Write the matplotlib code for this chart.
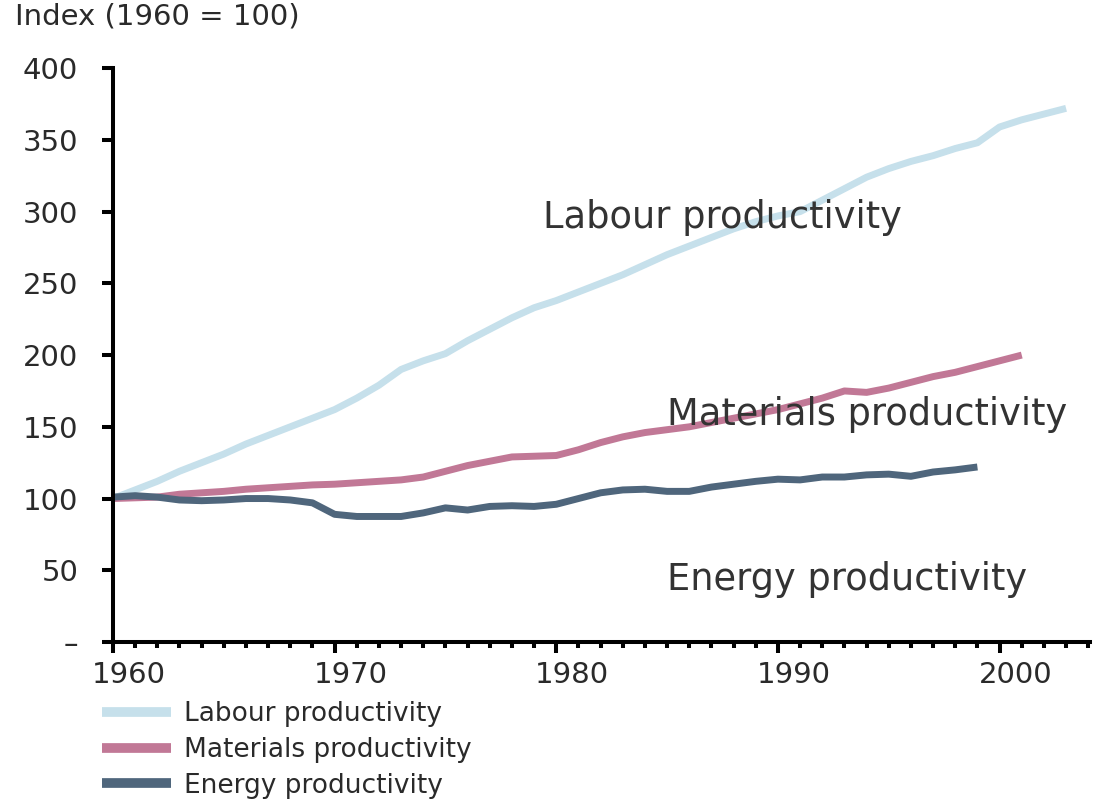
import numpy as np
import matplotlib
matplotlib.use("Agg")
import matplotlib.pyplot as plt
import matplotlib.transforms as mtransforms
from matplotlib.ticker import MultipleLocator

# ===== DATA =====
labour_years = list(range(1960, 2004))
labour = [100, 106, 112, 119, 125, 131, 138, 144, 150, 156,
          162, 170, 179, 190, 196, 201, 210, 218, 226, 233,
          238, 244, 250, 256, 263, 270, 276, 282, 288, 293,
          297, 300, 308, 316, 324, 330, 335, 339, 344, 348,
          359, 364, 368, 372]

materials_years = list(range(1960, 2002))
materials = [100, 100.5, 101, 103, 104, 105, 106.5, 107.5, 108.5, 109.5,
             110, 111, 112, 113, 115, 119, 123, 126, 129, 129.5,
             130, 134, 139, 143, 146, 148, 150, 153, 156, 159,
             162, 166, 170, 175, 174, 177, 181, 185, 188, 192,
             196, 200]

energy_years = list(range(1960, 2000))
energy = [101, 102, 101, 99, 98.5, 99, 100, 100, 99, 97,
          89, 87.5, 87.5, 87.5, 90, 93.5, 92, 94.5, 95, 94.5,
          96, 100, 104, 106, 106.5, 105, 105, 108, 110, 112,
          113.5, 113, 115, 115, 116.5, 117, 115.5, 118.5, 120, 122]

series_names = ["Labour productivity", "Materials productivity", "Energy productivity"]
series_colors = ["#c6e0eb", "#c17896", "#4f667c"]

y_ticks = [0, 50, 100, 150, 200, 250, 300, 350, 400]
y_tick_labels = ["–", "50", "100", "150", "200", "250", "300", "350", "400"]
x_ticks = [1960, 1970, 1980, 1990, 2000]

# label positions (year, value) for the in-chart names
label_pos = [(1979.4, 288.6), (1985.0, 151.5), (1985.0, 36.0)]

# ===== PLOT =====
fig = plt.figure(figsize=(11.15, 8.02), dpi=100)
ax = fig.add_axes([0.1013, 0.1995, 0.9780 - 0.1013, 0.915 - 0.1995])

xs = [labour_years, materials_years, energy_years]
ys = [labour, materials, energy]
for x, y, name, c in zip(xs, ys, series_names, series_colors):
    ax.plot(x, y, color=c, lw=5, label=name, solid_capstyle="butt", solid_joinstyle="round")

for (lx, ly), name in zip(label_pos, series_names):
    ax.text(lx, ly, name, fontsize=26.5, color="#333333", ha="left", va="baseline",
            family="DejaVu Sans")

ax.set_xlim(1960, 2004.1)
ax.set_ylim(0, 400)

for side in ["top", "right"]:
    ax.spines[side].set_visible(False)
for side in ["left", "bottom"]:
    ax.spines[side].set_linewidth(2.9)
    ax.spines[side].set_color("black")

ax.set_yticks(y_ticks)
ax.set_yticklabels(y_tick_labels)
ax.set_xticks(x_ticks)
ax.set_xticklabels([str(v) for v in x_ticks])
ax.xaxis.set_minor_locator(MultipleLocator(1))

ax.tick_params(axis="y", which="major", length=8, width=2.9, pad=17,
               labelsize=21, labelcolor="#2a2a2a")
ax.tick_params(axis="x", which="major", length=8, width=2.9, pad=6,
               labelsize=21, labelcolor="#2a2a2a")
ax.tick_params(axis="x", which="minor", length=4, width=2.9)

# x labels sit a bit right of their ticks in the original
shift = mtransforms.ScaledTranslation(0.16, 0, fig.dpi_scale_trans)
for lbl in ax.get_xticklabels():
    lbl.set_transform(lbl.get_transform() + shift)

fig.text(15 / 1115, 1 - 17 / 802, "Index (1960 = 100)", fontsize=21, color="#2a2a2a",
         ha="left", va="center")

leg = fig.legend(loc="upper left", bbox_to_anchor=(102 / 1115, 1 - 701 / 802),
                 frameon=False, fontsize=19, handlelength=2.6, handletextpad=0.5,
                 labelspacing=0.37, borderaxespad=0, borderpad=0)
for h in leg.get_lines():
    h.set_linewidth(7)
for t in leg.get_texts():
    t.set_color("#2a2a2a")

fig.savefig("out.png", dpi=100)
